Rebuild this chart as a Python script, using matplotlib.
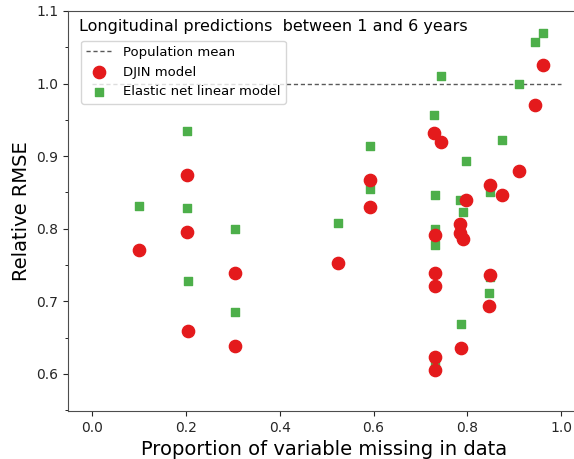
import matplotlib
matplotlib.use("Agg")
import matplotlib.pyplot as plt
from matplotlib.ticker import MultipleLocator

# proportion missing for each variable, relative RMSE per model
djin_missing = [0.100, 0.203, 0.203, 0.205, 0.305, 0.305, 0.525, 0.593, 0.593,
                0.728, 0.743, 0.731, 0.731, 0.730, 0.730, 0.730,
                0.798, 0.785, 0.785, 0.790, 0.787,
                0.848, 0.873, 0.848, 0.846,
                0.909, 0.944, 0.962]
djin_rmse = [0.771, 0.874, 0.796, 0.659, 0.739, 0.639, 0.753, 0.867, 0.830,
             0.932, 0.920, 0.791, 0.739, 0.721, 0.623, 0.605,
             0.839, 0.807, 0.794, 0.786, 0.636,
             0.860, 0.847, 0.737, 0.693,
             0.879, 0.971, 1.026]

elnet_missing = [0.100, 0.203, 0.203, 0.205, 0.305, 0.305, 0.525, 0.593, 0.593,
                 0.743, 0.728, 0.731, 0.731, 0.730, 0.730,
                 0.798, 0.785, 0.790, 0.787,
                 0.873, 0.848, 0.848, 0.846,
                 0.909, 0.944, 0.962]
elnet_rmse = [0.832, 0.935, 0.828, 0.728, 0.800, 0.686, 0.808, 0.914, 0.855,
              1.010, 0.957, 0.847, 0.800, 0.778, 0.614,
              0.893, 0.839, 0.823, 0.669,
              0.922, 0.851, 0.733, 0.711,
              1.000, 1.057, 1.070]

fig = plt.figure(figsize=(5.74, 4.59), dpi=100)
ax = fig.add_axes([68/574, 48/459, 512/574, 400/459])

ax.plot([0, 1], [1, 1], linestyle=(0, (3, 2)), color='0.35', lw=1.0,
        label='Population mean')
ax.scatter(elnet_missing, elnet_rmse, marker='s', s=36, color='#4daf4a',
           label='Elastic net linear model', zorder=2)
ax.scatter(djin_missing, djin_rmse, marker='o', s=78, color='#e41a1c',
           label='DJIN model', zorder=3)

ax.set_xlim(-0.051, 1.040)
ax.set_ylim(0.549, 1.1)
ax.set_xticks([0.0, 0.2, 0.4, 0.6, 0.8, 1.0])
ax.yaxis.set_major_locator(MultipleLocator(0.1))
ax.yaxis.set_minor_locator(MultipleLocator(0.05))
ax.tick_params(labelsize=10, colors='0.15')
ax.set_xlabel('Proportion of variable missing in data', fontsize=14)
ax.set_ylabel('Relative RMSE', fontsize=14)
for sp in ax.spines.values():
    sp.set_color('0.3')
ax.spines['right'].set_visible(False)

ax.text(0.022, 0.962, 'Longitudinal predictions  between 1 and 6 years',
        transform=ax.transAxes, fontsize=11.5, va='center', ha='left')

handles, labels = ax.get_legend_handles_labels()
order = [0, 2, 1]
ax.legend([handles[i] for i in order], [labels[i] for i in order],
          loc='upper left', bbox_to_anchor=(0.02, 0.932), fontsize=9.5,
          handlelength=2.0, borderaxespad=0.2, fancybox=True)

fig.savefig('out.png', dpi=100)
